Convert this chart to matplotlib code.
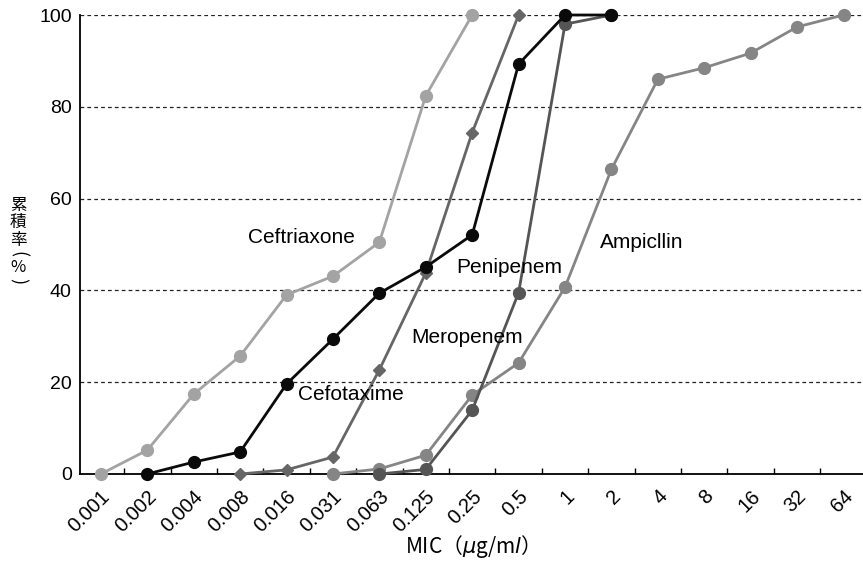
import matplotlib
matplotlib.use("Agg")
import matplotlib.pyplot as plt
import matplotlib.transforms as mtransforms
import numpy as np

plt.rcParams['font.family'] = ['Liberation Sans', 'DejaVu Sans']

categories = ["0.001", "0.002", "0.004", "0.008", "0.016", "0.031", "0.063",
              "0.125", "0.25", "0.5", "1", "2", "4", "8", "16", "32", "64"]

# cumulative % by MIC index (start index, values)
ceftriaxone_start = 0
ceftriaxone = [0, 5.2, 17.4, 25.7, 39.0, 43.1, 50.5, 82.4, 100]
cefotaxime_start = 1
cefotaxime = [0, 2.6, 4.8, 19.6, 29.4, 39.4, 45.1, 52.1, 89.3, 100, 100]
meropenem_start = 3
meropenem = [0, 0.9, 3.7, 22.7, 43.8, 74.4, 100]
penipenem_start = 6
penipenem = [0, 1.0, 13.9, 39.5, 98.0, 100]
ampicllin_start = 5
ampicllin = [0, 1.1, 4.1, 17.2, 24.2, 40.7, 66.4, 86.0, 88.5, 91.7, 97.4, 100]

labels = {
    "Ceftriaxone": (4.33, 51.5),
    "Cefotaxime": (5.38, 17.3),
    "Meropenem": (7.88, 29.8),
    "Penipenem": (8.8, 45.0),
    "Ampicllin": (11.65, 50.5),
}

ylabel_chars = ["累", "積", "率", "(", "%", ")"]

fig = plt.figure(figsize=(8.63, 5.63), dpi=100)
ax = fig.add_axes([80/863, 1-474/563, 1-80/863, (474-15)/563])

series = [
    (ceftriaxone_start, ceftriaxone, "#a3a3a3", "o", 8.5),
    (ampicllin_start, ampicllin, "#858585", "o", 8.5),
    (penipenem_start, penipenem, "#555555", "o", 8.5),
    (meropenem_start, meropenem, "#666666", "D", 6),
    (cefotaxime_start, cefotaxime, "#0a0a0a", "o", 8.5),
]
for start, vals, col, mk, ms in series:
    x = np.arange(start, start + len(vals))
    ax.plot(x, vals, color=col, lw=2, marker=mk, ms=ms, mec=col, mfc=col,
            clip_on=False, zorder=3)

for txt, (x, y) in labels.items():
    ax.text(x, y, txt, fontsize=15, ha="center", va="center", zorder=4)

ax.set_xlim(-0.45, 16.42)
ax.set_ylim(0, 100)
ax.set_yticks([0, 20, 40, 60, 80, 100])
ax.tick_params(axis="y", length=0, labelsize=14, pad=6)
ax.yaxis.grid(True, linestyle=(0, (3, 2.5)), color="#222222", lw=0.9)
ax.set_axisbelow(True)

ax.set_xticks(np.arange(len(categories)))
ax.set_xticklabels(categories, rotation=45, ha="right", va="top", fontsize=14.5)
ax.set_xticks(np.arange(len(categories) - 1) + 0.5, minor=True)
ax.tick_params(axis="x", which="major", length=0, pad=9)
ax.tick_params(axis="x", which="minor", direction="in", length=4.5, width=1)
offset = mtransforms.ScaledTranslation(13/100, 0, fig.dpi_scale_trans)
for lab in ax.get_xticklabels():
    lab.set_transform(lab.get_transform() + offset)

for s in ["top", "right"]:
    ax.spines[s].set_visible(False)
ax.spines["left"].set_linewidth(1.3)
ax.spines["bottom"].set_linewidth(1.3)

fig.text(467/863, 1-547/563, "MIC（$\\mu$g/m$l$）", ha="center", va="center",
         fontsize=15, family=["Noto Sans CJK JP", "DejaVu Sans"])

ylab_y = [205, 222.5, 240.5, 254, 267.5, 281]
for ch, yy in zip(ylabel_chars, ylab_y):
    rot = -90 if ch in "()" else 0
    fs = 12 if ch not in "()" else 13
    fig.text(18/863, 1-yy/563, ch, ha="center", va="center", fontsize=fs,
             rotation=rot, family=["Noto Sans CJK JP", "DejaVu Sans"])

fig.savefig("out.png", dpi=100)
